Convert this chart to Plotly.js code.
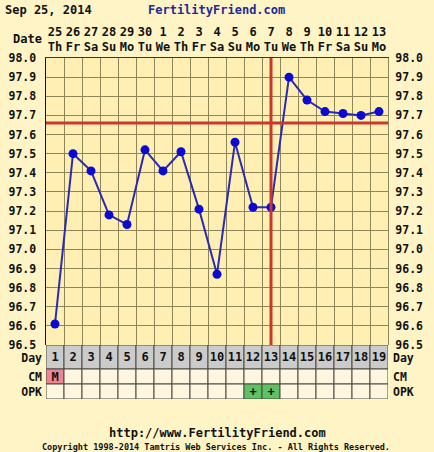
<!DOCTYPE html>
<html>
<head>
<meta charset="utf-8">
<script src="https://cdn.plot.ly/plotly-3.0.1.min.js"></script>
<style>
html,body{margin:0;padding:0;background:#FFF4C6;}
#chart{width:434px;height:452px;}
</style>
</head>
<body>
<div id="chart"></div>
<script>
// ---- data ----
const chartDate = 'Sep 25, 2014';
const dates = ['25','26','27','28','29','30','1','2','3','4','5','6','7','8','9','10','11','12','13'];
const weekdays = ['Th','Fr','Sa','Su','Mo','Tu','We','Th','Fr','Sa','Su','Mo','Tu','We','Th','Fr','Sa','Su','Mo'];
const cycleDays = [1,2,3,4,5,6,7,8,9,10,11,12,13,14,15,16,17,18,19];
const temps = [96.61,97.50,97.41,97.18,97.13,97.52,97.41,97.51,97.21,96.87,97.56,97.22,97.22,97.90,97.78,97.72,97.71,97.70,97.72];
const cmObs = ['M','','','','','','','','','','','','','','','','','',''];
const opkObs = ['','','','','','','','','','','','+','+','','','','','',''];
const tempTicks = [96.5,96.6,96.7,96.8,96.9,97.0,97.1,97.2,97.3,97.4,97.5,97.6,97.7,97.8,97.9,98.0];
const coverline = 97.66;
const ovulationDay = 13;
const rowNames = ['OPK','CM','Day'];

// ---- styling ----
const FONT = 'DejaVu Sans Mono, Liberation Mono, monospace';
const f = (size, color) => ({family: FONT, size: size, color: color || '#111', weight: 'bold'});
const gridCol = '#8E8658';
const tblLine = '#4A4A40';
const blank = '#FFF6E2';

// table rows drawn as bars: [base, height]
const rowGeom = {OPK: [0, 15], CM: [15, 15], Day: [30, 24]};
function tableRow(name, labels, colors) {
  const g = rowGeom[name];
  return {
    type: 'bar', x: cycleDays, y: cycleDays.map(() => g[1]), base: g[0], width: 1,
    xaxis: 'x2', yaxis: 'y2',
    marker: {color: colors, line: {color: tblLine, width: 1}},
    text: labels, textposition: 'inside', insidetextanchor: 'middle', textangle: 0,
    constraintext: 'none', textfont: f(12, '#111'),
    hoverinfo: 'skip', showlegend: false
  };
}

const traces = [
  tableRow('Day', cycleDays.map(String), cycleDays.map(() => '#CBCBCB')),
  tableRow('CM', cmObs, cmObs.map(v => v === 'M' ? '#EE8592' : blank)),
  tableRow('OPK', opkObs, opkObs.map(v => v === '+' ? '#5EC264' : blank)),
  {
    type: 'scatter', mode: 'lines+markers', x: cycleDays, y: temps,
    xaxis: 'x', yaxis: 'y',
    line: {color: '#2A2AB4', width: 2},
    marker: {color: '#0A0AD2', size: 9},
    hoverinfo: 'skip', showlegend: false
  },
  { // right-side temperature axis
    type: 'scatter', mode: 'markers', x: cycleDays, y: temps,
    xaxis: 'x', yaxis: 'y3', marker: {opacity: 0}, hoverinfo: 'skip', showlegend: false
  },
  { // right-side table labels
    type: 'scatter', mode: 'markers', x: [1], y: [7.5],
    xaxis: 'x2', yaxis: 'y4', marker: {opacity: 0}, hoverinfo: 'skip', showlegend: false
  }
];

const P = 341; // plot height in px
const py = p => (399 - p) / P;
const px = p => (p - 46) / 342;
const tableTop = 54 / P;
const rowTicks = [7.5, 22.5, 41];

const layout = {
  width: 434, height: 452,
  margin: {l: 46, r: 46, t: 58, b: 53, pad: 0},
  paper_bgcolor: '#FFF4C6',
  plot_bgcolor: '#FFEFB2',
  showlegend: false,
  barmode: 'overlay', bargap: 0,
  xaxis: {
    domain: [0, 1], range: [0.5, 19.5], anchor: 'y', side: 'top',
    tickvals: cycleDays, ticktext: cycleDays.map((d, i) => dates[i] + '<br>' + weekdays[i]),
    tickfont: f(12), ticks: '', ticklabelstandoff: 1,
    showgrid: false, zeroline: false, showline: true, linecolor: '#3A3A30', linewidth: 1,
    minor: {tick0: 0.5, dtick: 1, showgrid: true, gridcolor: gridCol, gridwidth: 1, ticks: ''},
    fixedrange: true
  },
  yaxis: {
    domain: [tableTop, 1], range: [96.5, 98.0], anchor: 'x',
    tickvals: tempTicks, ticktext: tempTicks.map(v => v.toFixed(1)),
    tickfont: f(11.5), ticks: '', ticklabelstandoff: 6,
    showgrid: true, gridcolor: gridCol, gridwidth: 1, zeroline: false,
    showline: true, linecolor: '#111', linewidth: 1.5, fixedrange: true
  },
  yaxis3: {
    overlaying: 'y', side: 'right', anchor: 'x', range: [96.5, 98.0],
    tickvals: tempTicks, ticktext: tempTicks.map(v => v.toFixed(1)),
    tickfont: f(11.5), ticks: '', ticklabelstandoff: 4,
    showgrid: false, zeroline: false, showline: true, linecolor: gridCol, fixedrange: true
  },
  xaxis2: {
    domain: [0, 1], range: [0.5, 19.5], anchor: 'y2', matches: 'x',
    showticklabels: false, ticks: '', showgrid: false, zeroline: false,
    showline: false, fixedrange: true
  },
  yaxis2: {
    domain: [0, tableTop], range: [0, 54], anchor: 'x2',
    tickvals: rowTicks, ticktext: rowNames,
    tickfont: f(11.5), ticks: '', ticklabelstandoff: 3,
    showgrid: false, zeroline: false, showline: false, fixedrange: true
  },
  yaxis4: {
    overlaying: 'y2', side: 'right', anchor: 'x2', range: [0, 54],
    tickvals: rowTicks, ticktext: rowNames,
    tickfont: f(11.5), ticks: '', ticklabelstandoff: 4,
    showgrid: false, zeroline: false, showline: false, fixedrange: true
  },
  shapes: [
    {type: 'line', xref: 'x', yref: 'y', x0: 0.5, x1: 19.5, y0: coverline, y1: coverline,
     line: {color: '#C8382E', width: 3}},
    {type: 'line', xref: 'x', yref: 'y', x0: ovulationDay, x1: ovulationDay, y0: 96.5, y1: 98.0,
     line: {color: '#C8382E', width: 3}}
  ],
  annotations: [
    {text: chartDate, xref: 'paper', yref: 'paper', x: px(3), y: py(10), xanchor: 'left', yanchor: 'middle',
     showarrow: false, font: f(12)},
    {text: 'FertilityFriend.com', xref: 'paper', yref: 'paper', x: px(216), y: py(10), xanchor: 'center', yanchor: 'middle',
     showarrow: false, font: f(12, '#1E2A96')},
    {text: 'Date', xref: 'paper', yref: 'paper', x: px(44), y: py(39), xanchor: 'right', yanchor: 'middle',
     showarrow: false, font: f(12)},
    {text: 'http://www.FertilityFriend.com', xref: 'paper', yref: 'paper', x: px(217), y: py(433), xanchor: 'center', yanchor: 'middle',
     showarrow: false, font: f(12)},
    {text: 'Copyright 1998-2014 Tamtris Web Services Inc. - All Rights Reserved.', xref: 'paper', yref: 'paper',
     x: px(216), y: py(447), xanchor: 'center', yanchor: 'middle', showarrow: false, font: f(8.5)}
  ]
};

Plotly.newPlot('chart', traces, layout, {displayModeBar: false, staticPlot: true});
</script>
</body>
</html>
